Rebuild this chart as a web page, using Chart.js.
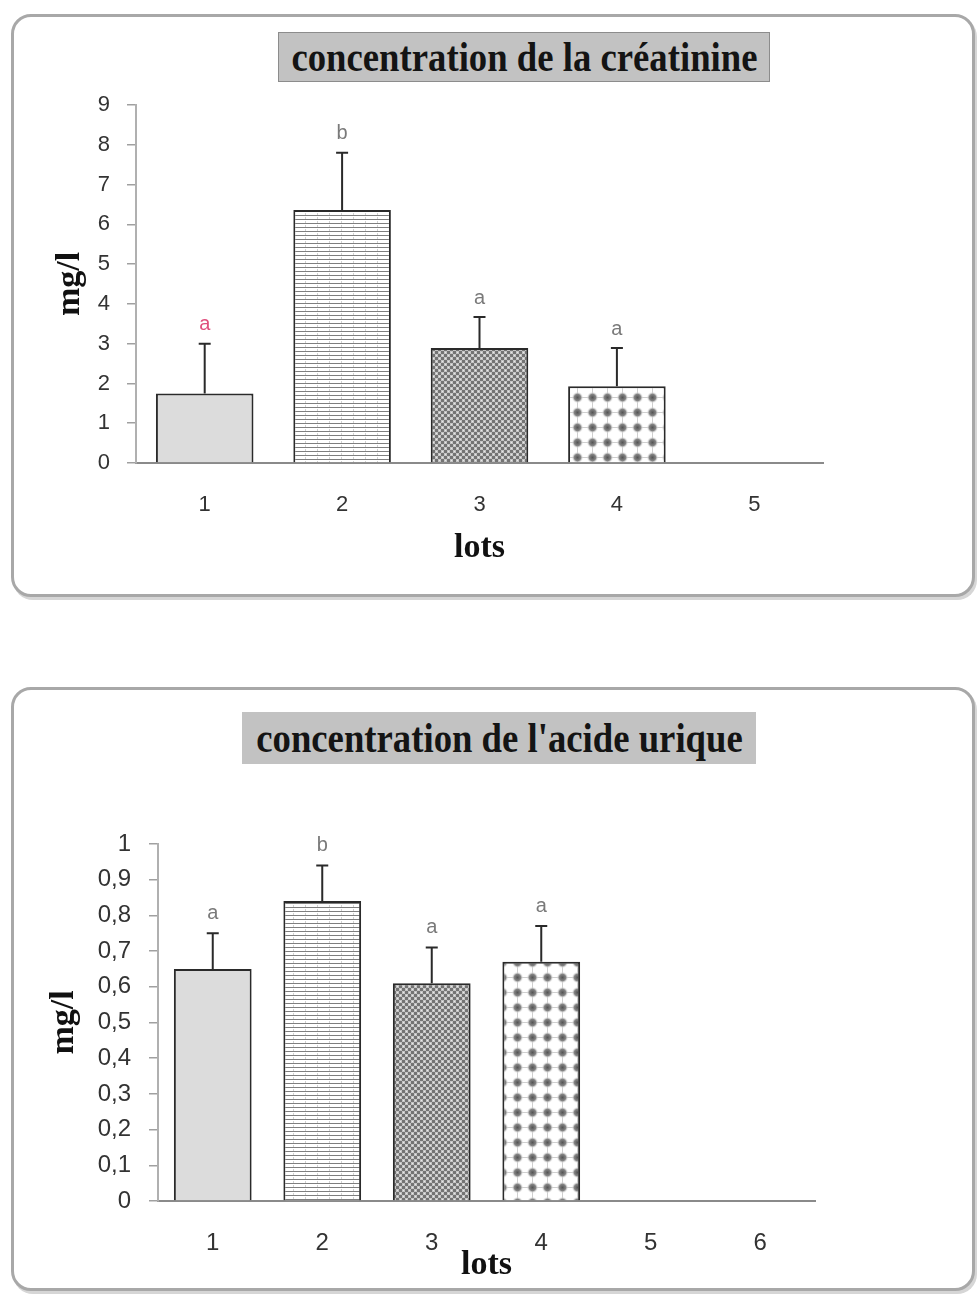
<!DOCTYPE html>
<html>
<head>
<meta charset="utf-8">
<script src="https://cdn.jsdelivr.net/npm/chart.js@4"></script>
<style>
  html, body { margin: 0; padding: 0; background: #fff; }
  body { width: 980px; height: 1294px; position: relative; overflow: hidden; }
  .frame {
    position: absolute; box-sizing: border-box;
    border: 3px solid #a8a8a8; border-radius: 20px; background: #fff;
    box-shadow: 2px 3px 0 #d6d6d6;
  }
  .ttl {
    position: absolute; box-sizing: border-box; background: #c2c2c2;
    display: flex; align-items: center; justify-content: center;
    font-family: "Liberation Serif", "DejaVu Serif", serif; font-weight: bold;
    color: #141414; white-space: nowrap;
  }
  .ttl span { display: inline-block; transform: scale(1.02, 1.15); }
  canvas { position: absolute; left: 0; }
</style>
</head>
<body>
<div class="frame" style="left:11px; top:14px; width:964px; height:583px;"></div>
<div class="frame" style="left:11px; top:687px; width:964px; height:604px;"></div>
<div class="ttl" style="left:278px; top:32px; width:492px; height:50px; border:1px solid #8c8c8c; font-size:36px;"><span>concentration de la créatinine</span></div>
<div class="ttl" style="left:242px; top:712px; width:514px; height:52px; font-size:36px;"><span>concentration de l'acide urique</span></div>
<canvas id="creat" width="980" height="600" style="top:0;"></canvas>
<canvas id="urique" width="980" height="654" style="top:640px;"></canvas>

<script>
// Créatinine (mg/l) per lot
const creatLots = ['1', '2', '3', '4', '5'];
const creatMeans = [1.75, 6.36, 2.89, 1.93, null];
const creatErrors = [1.25, 1.44, 0.78, 0.96, null];
const creatLetters = ['a', 'b', 'a', 'a', ''];
const creatTicks = ['0', '1', '2', '3', '4', '5', '6', '7', '8', '9'];

// Acide urique (mg/l) per lot
const uricLots = ['1', '2', '3', '4', '5', '6'];
const uricMeans = [0.65, 0.84, 0.61, 0.67, null, null];
const uricErrors = [0.10, 0.10, 0.10, 0.10, null, null];
const uricLetters = ['a', 'b', 'a', 'a', '', ''];
const uricTicks = ['0', '0,1', '0,2', '0,3', '0,4', '0,5', '0,6', '0,7', '0,8', '0,9', '1'];

// Hatch fills for the four lots
function makePattern(kind) {
  const c = document.createElement('canvas');
  const g = c.getContext('2d');
  if (kind === 'solid') {
    c.width = 4; c.height = 4;
    g.fillStyle = '#dcdcdc'; g.fillRect(0, 0, 4, 4);
  } else if (kind === 'lines') {
    c.width = 12; c.height = 4;
    g.fillStyle = '#ffffff'; g.fillRect(0, 0, 12, 4);
    g.fillStyle = '#7e7e7e'; g.fillRect(0, 3, 12, 1);
    g.fillStyle = '#d0d0d0'; g.fillRect(5, 1, 1, 2);
  } else if (kind === 'checker') {
    c.width = 6; c.height = 6;
    g.fillStyle = '#c4c4c4'; g.fillRect(0, 0, 6, 6);
    g.fillStyle = '#747474';
    g.fillRect(0, 0, 3, 3); g.fillRect(3, 3, 3, 3);
    g.fillStyle = '#e8e8e8'; g.fillRect(4, 1, 1, 1); g.fillRect(1, 4, 1, 1);
  } else if (kind === 'dots') {
    c.width = 15; c.height = 15;
    g.fillStyle = '#ffffff'; g.fillRect(0, 0, 15, 15);
    g.fillStyle = '#cfcfcf';
    g.fillRect(0, 7, 15, 1); g.fillRect(7, 0, 1, 15);
    const rg = g.createRadialGradient(7.5, 7.5, 0, 7.5, 7.5, 6);
    rg.addColorStop(0, '#555555'); rg.addColorStop(0.55, '#858585'); rg.addColorStop(1, 'rgba(255,255,255,0)');
    g.fillStyle = rg; g.beginPath(); g.arc(7.5, 7.5, 6, 0, Math.PI * 2); g.fill();
  }
  return g.createPattern(c, 'repeat');
}
const fills = [makePattern('solid'), makePattern('lines'), makePattern('checker'), makePattern('dots')];

// Upper error bars plus significance letters above them
const errorBarPlugin = {
  id: 'errorBars',
  afterDatasetsDraw(chart, args, opts) {
    const { ctx, scales: { y } } = chart;
    const meta = chart.getDatasetMeta(0);
    ctx.save();
    meta.data.forEach((bar, i) => {
      const m = opts.means[i], e = opts.errors[i];
      if (m == null || e == null) return;
      const cx = bar.x;
      const y0 = y.getPixelForValue(m);
      const y1 = y.getPixelForValue(m + e);
      ctx.strokeStyle = '#2a2a2a';
      ctx.lineWidth = 2;
      ctx.beginPath();
      ctx.moveTo(cx, y0); ctx.lineTo(cx, y1);
      ctx.moveTo(cx - 6, y1); ctx.lineTo(cx + 6, y1);
      ctx.stroke();
      const letter = opts.letters[i];
      if (letter) {
        ctx.fillStyle = (opts.letterColors && opts.letterColors[i]) || '#7a7a7a';
        ctx.font = opts.letterFont;
        ctx.textAlign = 'center';
        ctx.textBaseline = 'middle';
        ctx.fillText(letter, cx, y1 - opts.letterGap);
      }
    });
    ctx.restore();
  }
};

const axisTitleFont = { family: '"Liberation Serif", serif', weight: 'bold', size: 34, lineHeight: 1.2 };

function buildChart(id, cfg) {
  return new Chart(document.getElementById(id), {
    type: 'bar',
    data: {
      labels: cfg.labels,
      datasets: [{
        data: cfg.means,
        backgroundColor: fills,
        borderColor: '#2a2a2a',
        borderWidth: 2,
        borderSkipped: 'bottom',
        categoryPercentage: 1,
        barPercentage: 0.71
      }]
    },
    options: {
      responsive: false,
      animation: false,
      events: [],
      layout: { padding: cfg.padding },
      plugins: {
        legend: { display: false },
        tooltip: { enabled: false },
        errorBars: {
          means: cfg.means, errors: cfg.errors, letters: cfg.letters,
          letterColors: cfg.letterColors, letterGap: cfg.letterGap,
          letterFont: '20px "Liberation Sans", sans-serif'
        }
      },
      scales: {
        x: {
          afterFit: s => { s.height = cfg.xHeight; },
          grid: { display: false, drawTicks: false },
          border: { display: true, color: '#8a8a8a', width: 2 },
          ticks: {
            padding: cfg.xTickPad, color: '#333',
            font: { family: '"Liberation Sans", sans-serif', size: cfg.tickSize }
          },
          title: { display: true, text: 'lots', color: '#111', font: axisTitleFont, padding: 0 }
        },
        y: {
          min: 0, max: cfg.max,
          afterFit: s => { s.width = cfg.yWidth; },
          afterBuildTicks: s => {
            s.ticks = cfg.tickLabels.map((t, i) => ({ value: i * cfg.step }));
          },
          grid: { display: true, drawOnChartArea: false, drawTicks: true, tickLength: 9, color: '#a0a0a0', lineWidth: 1.5 },
          border: { display: true, color: '#b0b0b0', width: 2 },
          ticks: {
            padding: cfg.yTickPad, color: '#333',
            font: { family: '"Liberation Sans", sans-serif', size: cfg.tickSize },
            callback: (v, i) => cfg.tickLabels[i]
          },
          title: { display: true, text: 'mg/l', color: '#111', font: axisTitleFont, padding: 0 }
        }
      }
    },
    plugins: [errorBarPlugin]
  });
}

buildChart('creat', {
  labels: creatLots, means: creatMeans, errors: creatErrors, letters: creatLetters,
  letterColors: ['#e0507e', null, null, null, null], letterGap: 19,
  tickLabels: creatTicks, step: 1, max: 9,
  padding: { left: 50, top: 105, right: 157, bottom: 31 },
  yWidth: 86, xHeight: 106, xTickPad: 29, yTickPad: 17, tickSize: 22
});

buildChart('urique', {
  labels: uricLots, means: uricMeans, errors: uricErrors, letters: uricLetters,
  letterColors: null, letterGap: 20,
  tickLabels: uricTicks, step: 0.1, max: 1,
  padding: { left: 44, top: 204, right: 165, bottom: 8 },
  yWidth: 114, xHeight: 85, xTickPad: 28, yTickPad: 18, tickSize: 24
});
</script>
</body>
</html>
